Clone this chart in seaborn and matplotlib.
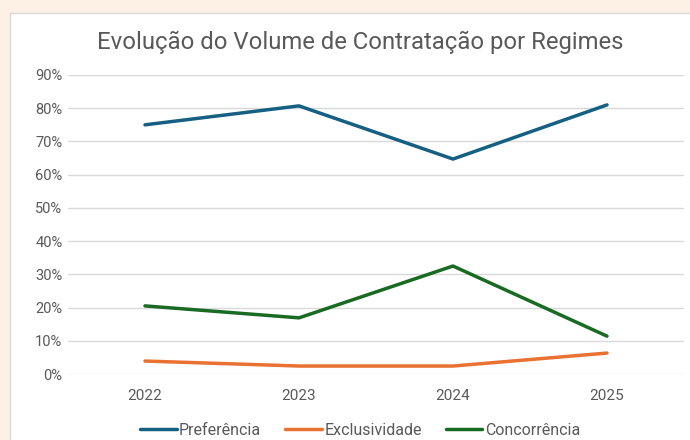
import pandas as pd
import numpy as np
import matplotlib.pyplot as plt
import matplotlib.patches as patches
from matplotlib.ticker import PercentFormatter
import seaborn as sns

# Data
anos = ["2022", "2023", "2024", "2025"]
preferencia = [0.750, 0.807, 0.647, 0.810]
exclusividade = [0.039, 0.024, 0.024, 0.063]
concorrencia = [0.205, 0.169, 0.325, 0.114]

series = ["Preferência", "Exclusividade", "Concorrência"]
cores = ["#156082", "#E97132", "#196B24"]

df = pd.DataFrame({
    "Ano": anos * 3,
    "Valor": preferencia + exclusividade + concorrencia,
    "Regime": [s for s in series for _ in anos],
})

sns.set_style("white")
plt.rcParams["font.family"] = ["Roboto", "DejaVu Sans"]

fig = plt.figure(figsize=(6.9, 4.4), dpi=100)
fig.patch.set_facecolor("#FDF0E5")

# White chart area
painel = patches.Rectangle((10 / 690, -0.05), 1.0, 1 - 13 / 440 + 0.05,
                           transform=fig.transFigure, facecolor="white",
                           edgecolor="#D9D9D9", linewidth=1, zorder=-10)
fig.patches.append(painel)

ax = fig.add_axes([68 / 690, 1 - 374 / 440, (684 - 68) / 690, (374 - 75) / 440])
ax.set_facecolor("none")
ax.set_zorder(5)

sns.lineplot(data=df, x="Ano", y="Valor", hue="Regime", hue_order=series,
             palette=cores, linewidth=2.5, ax=ax, legend=False)

ax.set_xlim(-0.5, 3.5)
ax.set_ylim(0, 0.9)
ax.set_yticks(np.arange(0, 0.91, 0.1))
ax.yaxis.set_major_formatter(PercentFormatter(1.0, decimals=0))
ax.grid(axis="y", color="#D9D9D9", linewidth=1)
ax.set_axisbelow(True)
for s in ax.spines.values():
    s.set_visible(False)
ax.tick_params(axis="both", length=0, colors="#595959")
ax.tick_params(axis="y", pad=4, labelsize=10.5)
ax.tick_params(axis="x", pad=11, labelsize=11)
ax.set_xlabel("")
ax.set_ylabel("")

fig.text(360 / 690, 1 - 42 / 440, "Evolução do Volume de Contratação por Regimes",
         ha="center", va="center", fontsize=17.2, color="#595959", zorder=6)

handles = [plt.Line2D([], [], color=c, linewidth=2.5) for c in cores]
leg = fig.legend(handles, series, loc="center", bbox_to_anchor=(360 / 690, 1 - 430 / 440),
                 ncol=3, frameon=False, fontsize=11.5, labelcolor="#595959",
                 handlelength=2.3, handletextpad=0.15, columnspacing=1.5)
leg.set_zorder(6)

plt.savefig("out.png", dpi=100, facecolor=fig.get_facecolor())
